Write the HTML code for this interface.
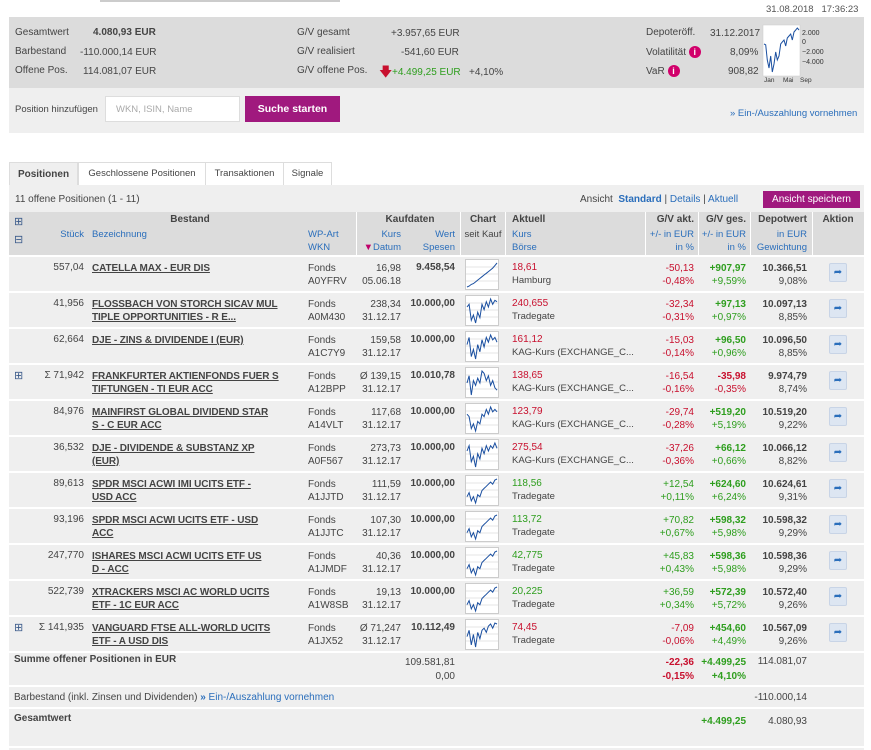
<!DOCTYPE html>
<html><head><meta charset="utf-8">
<style>
body{margin:0;width:871px;height:750px;background:#fff;font-family:"Liberation Sans",sans-serif;font-size:10px;color:#444;position:relative;overflow:hidden}
.a{position:absolute;white-space:nowrap}
.r{text-align:right}
.b{font-weight:bold}
.red{color:#c8102e}.grn{color:#2e9e1e}.blu{color:#2a6ebb}
.nm{font-weight:bold;text-decoration:underline;color:#444;font-size:10px;letter-spacing:-0.1px}
</style></head><body>
<div class="a" style="left:100px;top:0;width:240px;height:2px;background:#ccc"></div>
<div class="a" style="left:766px;top:4px;color:#555;font-size:9.5px">31.08.2018 &nbsp; 17:36:23</div>

<div class="a" style="left:9px;top:17px;width:855px;height:71px;background:#dcdcdc"></div>
<div class="a" style="left:9px;top:88px;width:855px;height:45px;background:#efefef"></div>
<div class="a" style="left:15px;top:27px">Gesamtwert</div>
<div class="a b" style="left:93px;top:27px">4.080,93 EUR</div>
<div class="a" style="left:15px;top:46px">Barbestand</div>
<div class="a" style="left:80px;top:47px">-110.000,14 EUR</div>
<div class="a" style="left:15px;top:65px">Offene Pos.</div>
<div class="a" style="left:83px;top:66px">114.081,07 EUR</div>
<div class="a" style="left:297px;top:27px">G/V gesamt</div>
<div class="a" style="left:391px;top:28px">+3.957,65 EUR</div>
<div class="a" style="left:297px;top:46px">G/V realisiert</div>
<div class="a" style="left:401px;top:47px">-541,60 EUR</div>
<div class="a" style="left:297px;top:65px">G/V offene Pos.</div>
<div class="a red" style="left:379px;top:63px;font-size:13px">&#129095;</div>
<div class="a grn" style="left:392px;top:67px">+4.499,25 EUR</div>
<div class="a" style="left:469px;top:67px">+4,10%</div>
<div class="a" style="left:646px;top:27px">Depoteröff.</div>
<div class="a" style="left:710px;top:28px">31.12.2017</div>
<div class="a" style="left:646px;top:46px">Volatilität <span style="display:inline-block;width:12px;height:12px;border-radius:6px;background:#d1006b;color:#fff;text-align:center;font-size:9px;line-height:12px;font-weight:bold">i</span></div>
<div class="a" style="left:730px;top:47px">8,09%</div>
<div class="a" style="left:646px;top:65px">VaR <span style="display:inline-block;width:12px;height:12px;border-radius:6px;background:#d1006b;color:#fff;text-align:center;font-size:9px;line-height:12px;font-weight:bold">i</span></div>
<div class="a" style="left:728px;top:66px">908,82</div>
<svg class="a" style="left:762px;top:24px" width="80" height="60">
<rect x="1" y="1" width="37" height="51" fill="#fff" stroke="#ccc" stroke-width="0.5"/>
<polyline id="depotLine" fill="none" stroke="#1a4fa0" stroke-width="1"/>
<text x="40" y="11" font-size="7" fill="#333">2.000</text><text x="40" y="20" font-size="7" fill="#333">0</text>
<text x="40" y="30" font-size="7" fill="#333">−2.000</text><text x="40" y="40" font-size="7" fill="#333">−4.000</text>
<text x="2" y="58" font-size="6.5" fill="#333">Jan</text><text x="21" y="58" font-size="6.5" fill="#333">Mai</text><text x="38" y="58" font-size="6.5" fill="#333">Sep</text>
</svg>
<div class="a" style="left:15px;top:104px;font-size:9.5px">Position hinzufügen</div>
<div class="a" style="left:105px;top:96px;width:135px;height:26px;background:#fff;border:1px solid #ddd;color:#aaa;line-height:26px;padding-left:10px;box-sizing:border-box;font-size:9.5px">WKN, ISIN, Name</div>
<div class="a b" style="left:245px;top:96px;width:95px;height:26px;background:#a0197e;color:#fff;line-height:26px;text-align:center;font-size:10.5px">Suche starten</div>
<div class="a blu" style="left:730px;top:108px;font-size:9.5px">» Ein-/Auszahlung vornehmen</div>

<div class="a" style="left:9px;top:162px;width:67px;height:23px;background:#efefef;border:1px solid #ddd;border-bottom:none;line-height:23px;text-align:center;font-weight:bold;font-size:10px">Positionen</div>
<div class="a" style="left:78px;top:162px;width:126px;height:22px;border:1px solid #ddd;line-height:22px;text-align:center;font-size:9.5px">Geschlossene Positionen</div>
<div class="a" style="left:205px;top:162px;width:77px;height:22px;border:1px solid #ddd;line-height:22px;text-align:center;font-size:9.5px">Transaktionen</div>
<div class="a" style="left:283px;top:162px;width:47px;height:22px;border:1px solid #ddd;line-height:22px;text-align:center;font-size:9.5px">Signale</div>
<div class="a" style="left:9px;top:185px;width:855px;height:565px;background:#efefef"></div>
<div class="a" style="left:15px;top:194px">11 offene Positionen (1 - 11)</div>
<div class="a" style="left:580px;top:194px">Ansicht &nbsp;<span class="blu b">Standard</span> | <span class="blu">Details</span> | <span class="blu">Aktuell</span></div>
<div class="a" style="left:763px;top:191px;width:97px;height:17px;background:#a0197e;color:#fff;line-height:17px;text-align:center;font-size:10px">Ansicht speichern</div>

<div class="a" style="left:9px;top:212px;width:855px;height:43px;background:#dcdcdc"></div>

<script>
const names=[["CATELLA MAX - EUR DIS",""],["FLOSSBACH VON STORCH SICAV MUL","TIPLE OPPORTUNITIES - R E..."],["DJE - ZINS & DIVIDENDE I (EUR)",""],["FRANKFURTER AKTIENFONDS FUER S","TIFTUNGEN - TI EUR ACC"],["MAINFIRST GLOBAL DIVIDEND STAR","S - C EUR ACC"],["DJE - DIVIDENDE & SUBSTANZ XP","(EUR)"],["SPDR MSCI ACWI IMI UCITS ETF -","USD ACC"],["SPDR MSCI ACWI UCITS ETF - USD","ACC"],["ISHARES MSCI ACWI UCITS ETF US","D - ACC"],["XTRACKERS MSCI AC WORLD UCITS","ETF - 1C EUR ACC"],["VANGUARD FTSE ALL-WORLD UCITS","ETF - A USD DIS"]];
const stueck=["557,04","41,956","62,664","Σ 71,942","84,976","36,532","89,613","93,196","247,770","522,739","Σ 141,935"];
const wkn=["A0YFRV","A0M430","A1C7Y9","A12BPP","A14VLT","A0F567","A1JJTD","A1JJTC","A1JMDF","A1W8SB","A1JX52"];
const kurs=["16,98","238,34","159,58","Ø 139,15","117,68","273,73","111,59","107,30","40,36","19,13","Ø 71,247"];
const datum=["05.06.18","31.12.17","31.12.17","31.12.17","31.12.17","31.12.17","31.12.17","31.12.17","31.12.17","31.12.17","31.12.17"];
const wert=["9.458,54","10.000,00","10.000,00","10.010,78","10.000,00","10.000,00","10.000,00","10.000,00","10.000,00","10.000,00","10.112,49"];
const akt=["18,61","240,655","161,12","138,65","123,79","275,54","118,56","113,72","42,775","20,225","74,45"];
const boerse=["Hamburg","Tradegate","KAG-Kurs (EXCHANGE_C...","KAG-Kurs (EXCHANGE_C...","KAG-Kurs (EXCHANGE_C...","KAG-Kurs (EXCHANGE_C...","Tradegate","Tradegate","Tradegate","Tradegate","Tradegate"];
const gvAkt=["-50,13","-32,34","-15,03","-16,54","-29,74","-37,26","+12,54","+70,82","+45,83","+36,59","-7,09"];
const gvAktP=["-0,48%","-0,31%","-0,14%","-0,16%","-0,28%","-0,36%","+0,11%","+0,67%","+0,43%","+0,34%","-0,06%"];
const gvGes=["+907,97","+97,13","+96,50","-35,98","+519,20","+66,12","+624,60","+598,32","+598,36","+572,39","+454,60"];
const gvGesP=["+9,59%","+0,97%","+0,96%","-0,35%","+5,19%","+0,66%","+6,24%","+5,98%","+5,98%","+5,72%","+4,49%"];
const depot=["10.366,51","10.097,13","10.096,50","9.974,79","10.519,20","10.066,12","10.624,61","10.598,32","10.598,36","10.572,40","10.567,09"];
const gew=["9,08%","8,85%","8,85%","8,74%","9,22%","8,82%","9,31%","9,29%","9,29%","9,26%","9,26%"];
const spark=[[2,3,5,6,8,10,12,14,16,18,20,22,24,27,30],[20,22,10,14,8,16,12,22,18,24,20,26,22,25,24],[18,24,8,14,6,18,12,22,16,24,20,26,22,24,20],[16,22,6,18,14,20,16,26,24,18,22,14,18,12,10],[18,16,6,10,4,12,10,18,16,22,18,24,20,22,20],[20,24,12,16,8,18,14,22,18,24,20,24,22,26,22],[10,14,6,10,4,12,10,16,18,20,22,24,22,26,27],[10,14,6,10,4,12,10,16,18,20,22,24,22,26,27],[10,14,6,10,4,12,10,16,18,20,22,24,22,26,27],[10,14,6,10,4,12,10,16,18,20,22,24,22,26,27],[14,20,6,16,4,18,12,20,22,18,24,26,22,27,26]];
const depotSeries=[10,8,-30,-50,-20,-60,-40,-10,-30,-20,10,15,20,5,25,30,35,20,40,45,50,45];

function add(parent,html,name,cls,style){const d=document.createElement('div');d.className='a '+(cls||'');d.style.cssText=style;d.innerHTML=html;parent.appendChild(d);return d;}
const B=document.body;
const H=[["Bestand",140,100,"center"],["Kaufdaten",360,100,"center"],["Chart",463,40,"center"],["Aktuell",512,60,"left"],["G/V akt.",645,49,"right"],["G/V ges.",698,48,"right"],["Depotwert",750,57,"right"],["Aktion",812,52,"center"]];
H.forEach(h=>add(B,h[0],'header-'+h[0].toLowerCase().replace(/[^a-z]/g,''),'b',`left:${h[1]}px;top:214px;width:${h[2]}px;text-align:${h[3]}`));
const sub=[["Stück",40,44,"right",229,"blu"],["Bezeichnung",92,80,"left",229,"blu"],["WP-Art",308,40,"left",229,"blu"],["WKN",308,40,"left",242,"blu"],["Kurs",360,41,"right",229,"blu"],["<span style='color:#c0006b'>▼</span>Datum",360,41,"right",242,"blu"],["Wert",405,50,"right",229,"blu"],["Spesen",405,50,"right",242,"blu"],["seit Kauf",463,40,"center",229,""],["Kurs",512,40,"left",229,"blu"],["Börse",512,40,"left",242,"blu"],["+/- in EUR",645,49,"right",229,"blu"],["in %",645,49,"right",242,"blu"],["+/- in EUR",698,48,"right",229,"blu"],["in %",698,48,"right",242,"blu"],["in EUR",750,57,"right",229,"blu"],["Gewichtung",750,57,"right",242,"blu"]];
sub.forEach((s,i)=>add(B,s[0],'header-sub-'+i,s[5],`left:${s[1]}px;top:${s[4]}px;width:${s[2]}px;text-align:${s[3]};font-size:9.5px`));
[356,460,505,645,698,750,812].forEach((x,i)=>add(B,'','header-divider-'+i,'',`left:${x}px;top:212px;width:1px;height:43px;background:#fff`));
add(B,'⊞','expand-all-icon','',`left:14px;top:215px;font-size:11px;color:#3a5a8a`);
add(B,'⊟','collapse-all-icon','',`left:14px;top:233px;font-size:11px;color:#3a5a8a`);
const top0=257,pitch=36,ty=5,lh='13px';
for(let i=0;i<names.length;i++){
 const y=top0+i*pitch;
 add(B,'','row-separator-'+i,'',`left:9px;top:${y-2}px;width:855px;height:2px;background:#fff`);
 const n=names[i];
 if(stueck[i][0]==='Σ') add(B,'⊞','row-expand-'+i,'',`left:14px;top:${y+4}px;font-size:11px;color:#3a5a8a`);
 add(B,stueck[i],'row-stueck-'+i,'r',`left:30px;top:${y+ty}px;width:54px`);
 const nm=add(B,n[0]+(n[1]?'<br>'+n[1]:''),'row-name-'+i,'nm',`left:92px;top:${y+ty}px;line-height:${lh}`);
 add(B,'Fonds<br>'+wkn[i],'row-type-wkn-'+i,'',`left:308px;top:${y+ty}px;line-height:${lh}`);
 add(B,kurs[i]+'<br>'+datum[i],'row-kurs-datum-'+i,'r',`left:340px;top:${y+ty}px;width:61px;line-height:${lh}`);
 add(B,wert[i],'row-wert-'+i,'r b',`left:400px;top:${y+ty}px;width:55px`);
 add(B,akt[i],'row-aktuell-'+i,(gvAkt[i][0]==='+'?'grn':'red'),`left:512px;top:${y+ty}px`);
 add(B,boerse[i],'row-boerse-'+i,'',`left:512px;top:${y+ty+13}px;font-size:9.5px`);
 const ca=gvAkt[i][0]==='+'?'grn':'red', cg=gvGes[i][0]==='+'?'grn':'red';
 add(B,gvAkt[i]+'<br>'+gvAktP[i],'row-gv-akt-'+i,'r '+ca,`left:630px;top:${y+ty}px;width:64px;line-height:${lh}`);
 add(B,'<b>'+gvGes[i]+'</b><br>'+gvGesP[i],'row-gv-ges-'+i,'r '+cg,`left:680px;top:${y+ty}px;width:66px;line-height:${lh}`);
 add(B,'<b>'+depot[i]+'</b><br>'+gew[i],'row-depot-'+i,'r',`left:740px;top:${y+ty}px;width:67px;line-height:${lh}`);
 const ac=add(B,'➦','row-action-'+i,'',`left:829px;top:${y+6}px;width:16px;height:17px;background:#dde6f2;border:1px solid #c8d4e6;border-radius:2px;color:#2a6ebb;text-align:center;line-height:17px;font-size:10px`);
 const s=document.createElementNS('http://www.w3.org/2000/svg','svg');
 s.setAttribute('width','34');s.setAttribute('height','31');
 s.setAttribute('class','a');s.style.left='465px';s.style.top=(y+2)+'px';
 
 
 const v=spark[i],mn=Math.min(...v),mx=Math.max(...v);
 let g='<rect x="0.5" y="0.5" width="33" height="30" fill="#fff" stroke="#ccc"/>';
 [8,15,22].forEach(yy=>g+=`<line x1="1" x2="33" y1="${yy}" y2="${yy}" stroke="#e4e4e4"/>`);
 const pts=v.map((d,k)=>`${(2+k*30/(v.length-1)).toFixed(1)},${(28-(d-mn)/(mx-mn||1)*24).toFixed(1)}`).join(' ');
 g+=`<polyline points="${pts}" fill="none" stroke="#1a4fa0" stroke-width="1"/>`;
 s.innerHTML=g;B.appendChild(s);
}
(function(){const v=depotSeries,mn=-60,mx=50;document.getElementById('depotLine').setAttribute('points',v.map((d,k)=>`${(2+k*35/(v.length-1)).toFixed(1)},${(48-(d-mn)/(mx-mn)*44).toFixed(1)}`).join(' '));})();
let y=top0+11*pitch;
add(B,'','sum-separator','',`left:9px;top:${y-2}px;width:855px;height:2px;background:#fff`);
add(B,'Summe offener Positionen in EUR','sum-label','b',`left:14px;top:${y+1}px`);
add(B,'109.581,81<br>0,00','sum-wert','r',`left:380px;top:${y+3}px;width:75px;line-height:14px`);
add(B,'<b>-22,36</b><br><b>-0,15%</b>','sum-gv-akt','r red',`left:630px;top:${y+3}px;width:64px;line-height:14px`);
add(B,'<b>+4.499,25</b><br><b>+4,10%</b>','sum-gv-ges','r grn',`left:680px;top:${y+3}px;width:66px;line-height:14px`);
add(B,'114.081,07','sum-depot','r',`left:740px;top:${y+3}px;width:67px`);
y=687;
add(B,'','cash-separator','',`left:9px;top:${y-2}px;width:855px;height:2px;background:#fff`);
add(B,'Barbestand (inkl. Zinsen und Dividenden) <span class="blu"><b>»</b> Ein-/Auszahlung vornehmen</span>','cash-label','',`left:14px;top:${y+5}px`);
add(B,'-110.000,14','cash-value','r',`left:740px;top:${y+5}px;width:67px`);
y=709;
add(B,'','total-separator','',`left:9px;top:${y-2}px;width:855px;height:2px;background:#fff`);
add(B,'Gesamtwert','total-label','b',`left:14px;top:${y+4}px`);
add(B,'<b>+4.499,25</b>','total-gv','r grn',`left:680px;top:${y+7}px;width:66px`);
add(B,'4.080,93','total-depot','r',`left:740px;top:${y+7}px;width:67px`);
add(B,'','bottom-border','',`left:9px;top:746px;width:855px;height:2px;background:#fff`);
</script>
</body></html>
